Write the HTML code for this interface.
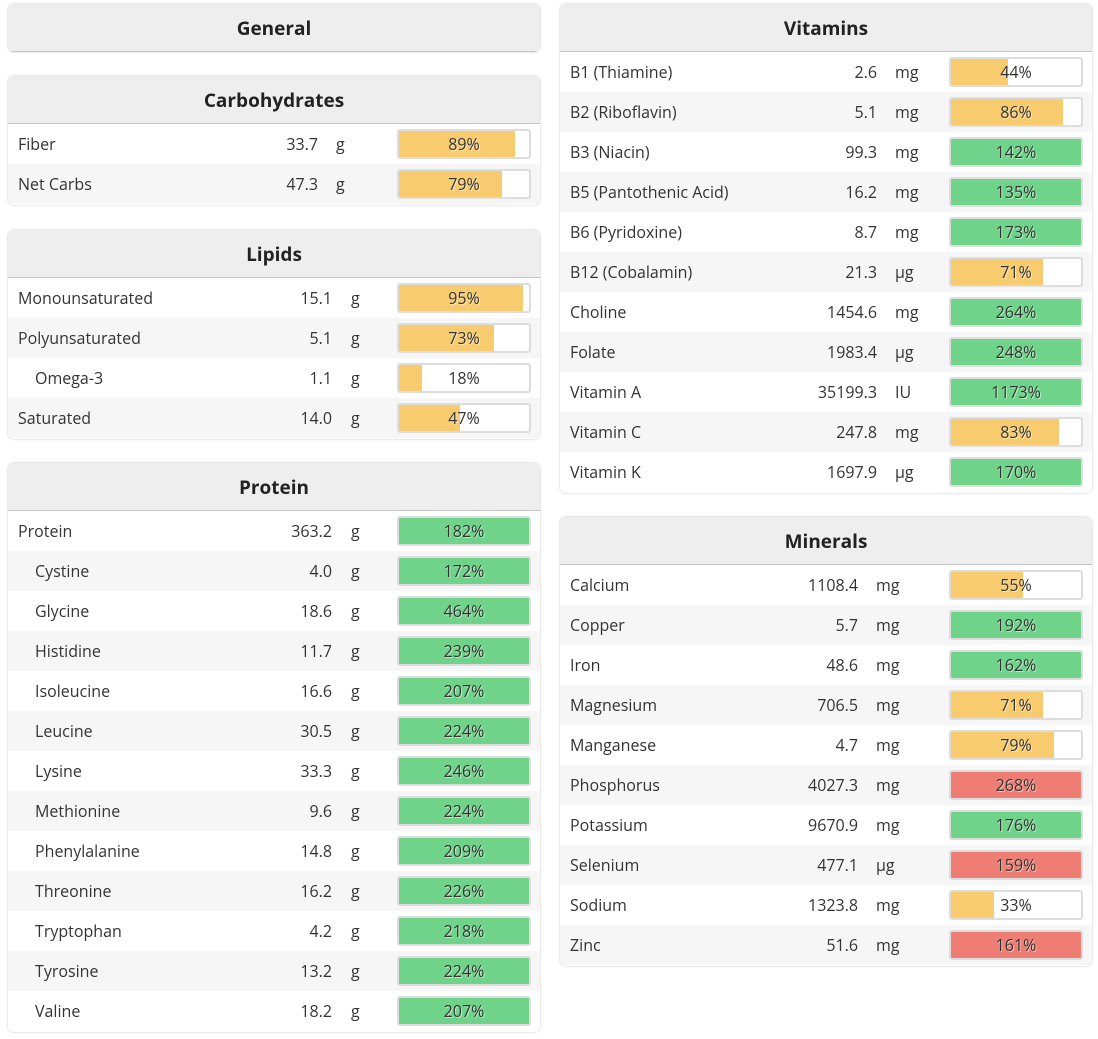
<!DOCTYPE html>
<html><head><meta charset="utf-8">
<style>
body{margin:0;width:1098px;height:1039px;background:#fff;font-family:"Open Sans","Liberation Sans",sans-serif;color:#333;position:relative;overflow:hidden}
.panel{position:absolute;width:532px;border-radius:6px;background:#fff;box-shadow:0 0 2px rgba(0,0,0,.25);overflow:hidden}
.hdr{height:47px;background:#eeeeee;border-bottom:1px solid #c4c4c4;text-align:center;font-weight:bold;font-size:19px;line-height:49px;color:#222}
.row{position:absolute;left:0;width:532px;height:40px;font-size:16px;line-height:40px}
.row span{position:absolute;top:0}
.bar{position:absolute;top:5px;width:130px;height:26px;border:2px solid #ddd;border-radius:3px;background:#fff;overflow:hidden}
.fill{position:absolute;left:0;top:0;height:26px}
.pct{position:absolute;left:0;top:0;width:130px;text-align:center;line-height:27px;font-size:16px;color:#333;text-shadow:1px 1px 0 rgba(255,255,255,.5)}
</style></head><body>
<script>
const carbNames=["Fiber","Net Carbs"],carbVals=["33.7","47.3"],carbUnits=["g","g"],carbPct=[89,79],carbCol=["y","y"],carbInd=[0,0];
const lipNames=["Monounsaturated","Polyunsaturated","Omega-3","Saturated"],lipVals=["15.1","5.1","1.1","14.0"],lipUnits=["g","g","g","g"],lipPct=[95,73,18,47],lipCol=["y","y","y","y"],lipInd=[0,0,1,0];
const proNames=["Protein","Cystine","Glycine","Histidine","Isoleucine","Leucine","Lysine","Methionine","Phenylalanine","Threonine","Tryptophan","Tyrosine","Valine"],proVals=["363.2","4.0","18.6","11.7","16.6","30.5","33.3","9.6","14.8","16.2","4.2","13.2","18.2"],proUnits=Array(13).fill("g"),proPct=[182,172,464,239,207,224,246,224,209,226,218,224,207],proCol=Array(13).fill("g"),proInd=[0,1,1,1,1,1,1,1,1,1,1,1,1];
const vitNames=["B1 (Thiamine)","B2 (Riboflavin)","B3 (Niacin)","B5 (Pantothenic Acid)","B6 (Pyridoxine)","B12 (Cobalamin)","Choline","Folate","Vitamin A","Vitamin C","Vitamin K"],vitVals=["2.6","5.1","99.3","16.2","8.7","21.3","1454.6","1983.4","35199.3","247.8","1697.9"],vitUnits=["mg","mg","mg","mg","mg","µg","mg","µg","IU","mg","µg"],vitPct=[44,86,142,135,173,71,264,248,1173,83,170],vitCol=["y","y","g","g","g","y","g","g","g","y","g"],vitInd=Array(11).fill(0);
const minNames=["Calcium","Copper","Iron","Magnesium","Manganese","Phosphorus","Potassium","Selenium","Sodium","Zinc"],minVals=["1108.4","5.7","48.6","706.5","4.7","4027.3","9670.9","477.1","1323.8","51.6"],minUnits=["mg","mg","mg","mg","mg","mg","mg","µg","mg","mg"],minPct=[55,192,162,71,79,268,176,159,33,161],minCol=["y","g","g","y","y","r","g","r","y","r"],minInd=Array(10).fill(0);
const colors={y:"#f7cb6e",g:"#6fd48a",r:"#ee7d73"};
function panel(name,title,x,top,rows,valR,unitX){
  const p=document.createElement('div');p.className='panel';
  
  
  p.style.left=x+'px';p.style.top=top+'px';
  const n=rows?rows[0].length:0;p.style.height=(48+n*40+(n?1:0))+'px';
  const h=document.createElement('div');h.className='hdr';h.textContent=title;
  
  
  p.appendChild(h);
  for(let i=0;i<n;i++){
    const [nm,vl,un,pc,cl,ind]=rows.map(a=>a[i]);
    const r=document.createElement('div');r.className='row';
    
    
    r.style.top=(48+i*40)+'px';r.style.background=i%2?'#f6f6f6':'#fff';
    const a=document.createElement('span');a.textContent=nm;a.style.left=(ind?27:10)+'px';
    
    
    const b=document.createElement('span');b.textContent=vl;b.style.right=(532-valR)+'px';
    
    
    const c=document.createElement('span');c.textContent=un;c.style.left=unitX+'px';
    
    
    const bar=document.createElement('div');bar.className='bar';bar.style.left='389px';
    
    
    const f=document.createElement('div');f.className='fill';f.style.width=(Math.min(pc,100)*1.3)+'px';f.style.background=colors[cl];
    
    
    const t=document.createElement('div');t.className='pct';t.textContent=pc+'%';
    
    
    bar.appendChild(f);bar.appendChild(t);
    r.append(a,b,c,bar);p.appendChild(r);
  }
  document.body.appendChild(p);
}
panel('general-panel','General',8,4,null,0,0);
panel('carbohydrates-panel','Carbohydrates',8,76,[carbNames,carbVals,carbUnits,carbPct,carbCol,carbInd],310,328);
panel('lipids-panel','Lipids',8,230,[lipNames,lipVals,lipUnits,lipPct,lipCol,lipInd],324,343);
panel('protein-panel','Protein',8,463,[proNames,proVals,proUnits,proPct,proCol,proInd],324,343);
panel('vitamins-panel','Vitamins',560,4,[vitNames,vitVals,vitUnits,vitPct,vitCol,vitInd],317,335);
panel('minerals-panel','Minerals',560,517,[minNames,minVals,minUnits,minPct,minCol,minInd],298,316);
</script>
</body></html>
